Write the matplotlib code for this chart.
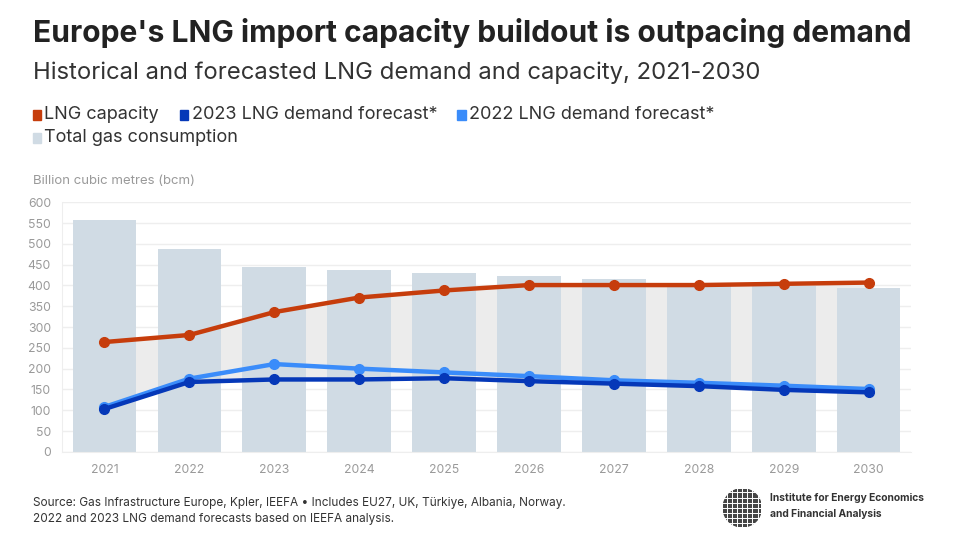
import numpy as np
import matplotlib
matplotlib.use("Agg")
import matplotlib.pyplot as plt
from matplotlib.patches import Circle, Rectangle

years = ["2021", "2022", "2023", "2024", "2025", "2026", "2027", "2028", "2029", "2030"]
total_gas = [557, 488, 445, 438, 430, 423, 415, 401, 399, 395]
lng_capacity = [264, 281, 336, 371, 388, 401, 401, 401, 404, 407]
forecast_2022 = [108, 176, 211, 200, 191, 182, 172, 166, 159, 151]
forecast_2023 = [103, 168, 174, 174, 177, 170, 164, 158, 149, 143]

RED = "#c63d0c"
DARK = "#0538b8"
LIGHT = "#3a8cfa"
BAR = "#d0dbe4"
FILL = "#ececec"
GRID = "#eeeeee"
TICK = "#9a9a9a"
INK = "#222222"

plt.rcParams["font.family"] = ["Inter", "DejaVu Sans"]

fig = plt.figure(figsize=(9.59, 5.49), dpi=100)
ax = fig.add_axes([0.0647, 0.177, 0.8853, 0.4545])

x = np.arange(len(years))
ax.fill_between(x, forecast_2023, lng_capacity, color=FILL, lw=0, zorder=1)
ax.bar(x, total_gas, width=0.75, color=BAR, zorder=2)
ax.plot(x, lng_capacity, color=RED, lw=3.2, marker="o", ms=7, zorder=5)
ax.plot(x, forecast_2023, color=DARK, lw=3.2, marker="o", ms=7, zorder=4)
ax.plot(x, forecast_2022, color=LIGHT, lw=3.2, marker="o", ms=7, zorder=3)

ax.set_xlim(-0.5, 9.5)
ax.set_ylim(0, 600)
ax.set_yticks(range(0, 601, 50))
ax.set_xticks(x, years)
ax.yaxis.grid(True, color=GRID, lw=1)
ax.set_axisbelow(True)
for s in ["top", "right"]:
    ax.spines[s].set_visible(False)
ax.spines["left"].set_color(GRID)
ax.spines["bottom"].set_color(GRID)
ax.tick_params(axis="both", length=0, colors=TICK, labelsize=8.8)
ax.tick_params(axis="y", pad=8)
ax.tick_params(axis="x", pad=9)

fig.text(0.034, 0.665, "Billion cubic metres (bcm)", fontsize=9.5, color=TICK)

fig.text(0.034, 0.94, "Europe's LNG import capacity buildout is outpacing demand",
         fontsize=21.6, fontweight="bold", color=INK, va="center")
fig.text(0.034, 0.868, "Historical and forecasted LNG demand and capacity, 2021-2030",
         fontsize=17.2, color="#333333", va="center")

legend_items = [
    (0.034, 0.791, RED, "LNG capacity"),
    (0.188, 0.791, DARK, "2023 LNG demand forecast*"),
    (0.477, 0.791, LIGHT, "2022 LNG demand forecast*"),
    (0.034, 0.750, BAR, "Total gas consumption"),
]
for lx, ly, c, label in legend_items:
    fig.patches.append(Rectangle((lx, ly - 0.010), 0.0085, 0.018, color=c,
                                 transform=fig.transFigure, figure=fig))
    fig.text(lx + 0.012, ly, label, fontsize=13, color="#333333", va="center")

fig.text(0.034, 0.083, "Source: Gas Infrastructure Europe, Kpler, IEEFA \u2022 Includes EU27, UK, T\u00fcrkiye, Albania, Norway.",
         fontsize=8.5, color="#333333", va="center")
fig.text(0.034, 0.054, "2022 and 2023 LNG demand forecasts based on IEEFA analysis.",
         fontsize=8.5, color="#333333", va="center")

# logo
lax = fig.add_axes([0.754, 0.040, 0.04, 0.07])
lax.set_xlim(-1, 1)
lax.set_ylim(-1, 1)
lax.set_aspect("equal")
lax.axis("off")
lax.add_patch(Circle((0, 0), 1, color="#444444"))
for v in np.linspace(-0.8, 0.8, 7):
    lax.axvline(v, color="white", lw=0.7)
    lax.axhline(v, color="white", lw=0.7)
fig.text(0.803, 0.093, "Institute for Energy Economics", fontsize=7.4, fontweight="bold",
         color="#333333", va="center")
fig.text(0.803, 0.064, "and Financial Analysis", fontsize=7.4, fontweight="bold",
         color="#333333", va="center")

fig.savefig("out.png", dpi=100)
